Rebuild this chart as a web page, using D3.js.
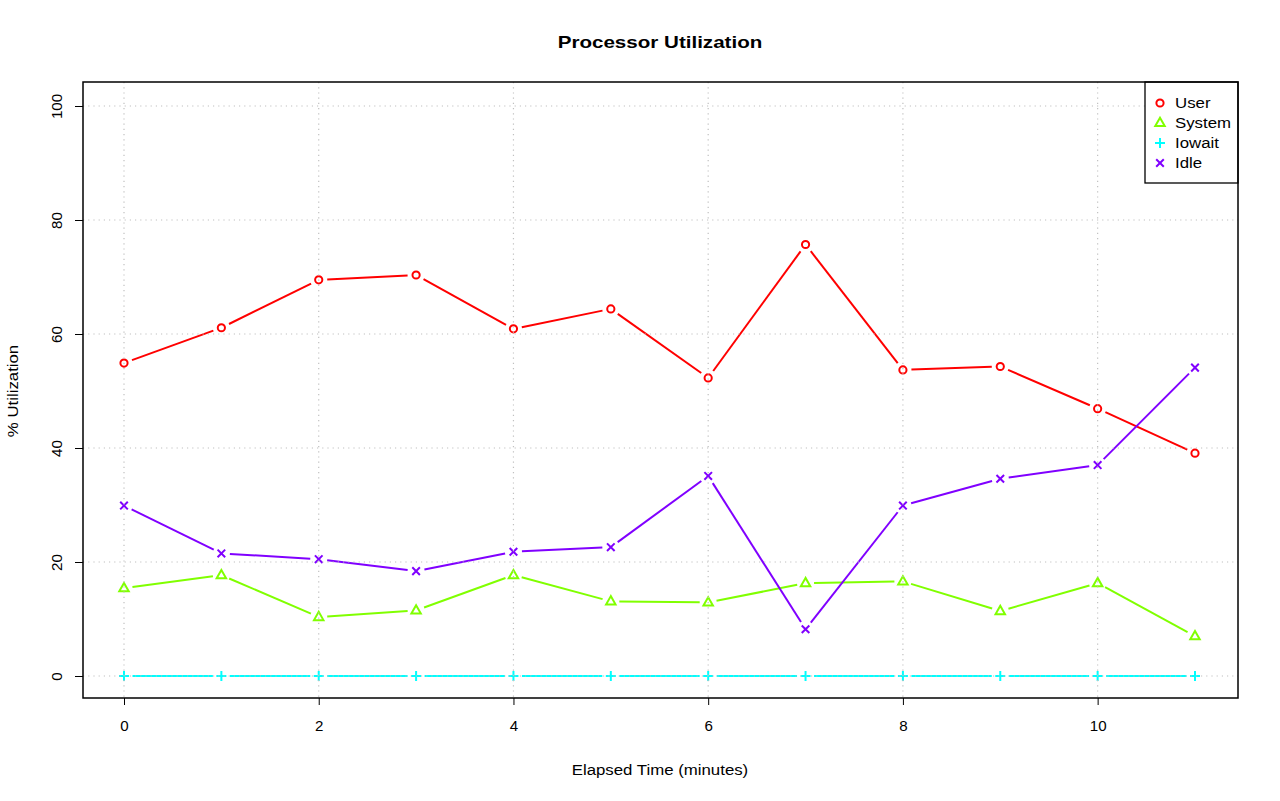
<!DOCTYPE html>
<html>
<head>
<meta charset="utf-8">
<script src="https://cdn.jsdelivr.net/npm/d3@7"></script>
<style>
body { margin: 0; background: #fff; }
svg { display: block; font-family: "Liberation Sans", Arial, sans-serif; }
</style>
</head>
<body>
<svg id="chart" width="1280" height="801"></svg>
<script>
const minutes = [0, 1, 2, 3, 4, 5, 6, 7, 8, 9, 10, 11];
const userVals = [54.9, 61.1, 69.5, 70.35, 60.9, 64.4, 52.3, 75.7, 53.7, 54.3, 46.9, 39.1];
const systemVals = [15.4, 17.7, 10.35, 11.5, 17.7, 13.1, 12.9, 16.3, 16.6, 11.4, 16.3, 7.0];
const iowaitVals = [0, 0, 0, 0, 0, 0, 0, 0, 0, 0, 0, 0];
const idleVals = [29.9, 21.5, 20.5, 18.4, 21.8, 22.6, 35.1, 8.2, 29.9, 34.6, 37.0, 54.1];
const seriesNames = ["User", "System", "Iowait", "Idle"];
const seriesColors = ["#FF0000", "#80FF00", "#00FFFF", "#8000FF"];
const seriesShapes = ["circle", "triangle", "plus", "cross"];
const xTicks = [0, 2, 4, 6, 8, 10];
const yTicks = [0, 20, 40, 60, 80, 100];

const series = [userVals, systemVals, iowaitVals, idleVals].map((v, i) => ({
  name: seriesNames[i], color: seriesColors[i], shape: seriesShapes[i],
  values: v.map((y, j) => ({ x: minutes[j], y }))
}));

const svg = d3.select("#chart");
const box = { left: 83, right: 1238, top: 82, bottom: 698 };
const x = d3.scaleLinear().domain([0, 11]).range([124, 1195]);
const y = d3.scaleLinear().domain([0, 100]).range([676, 106]);

// widen text to match the reference's wider glyph rendering
function widen(sel, f) {
  sel.each(function() {
    const n = this.getComputedTextLength();
    d3.select(this).attr("textLength", n * f).attr("lengthAdjust", "spacingAndGlyphs");
  });
}

// title and labels
svg.append("text").attr("x", 660).attr("y", 48).attr("text-anchor", "middle")
  .attr("font-weight", "bold").attr("font-size", 17).text("Processor Utilization").call(widen, 1.21);
svg.append("text").attr("x", 660).attr("y", 775).attr("text-anchor", "middle")
  .attr("font-size", 14).text("Elapsed Time (minutes)").call(widen, 1.2);
svg.append("text").attr("transform", "translate(18,391) rotate(-90)").attr("text-anchor", "middle")
  .attr("font-size", 14).text("% Utilization").call(widen, 1.2);

// axes
const xAxis = d3.axisBottom(x).tickValues(xTicks).tickSize(7).tickPadding(16).tickFormat(d3.format("d"));
const gx = svg.append("g").attr("transform", `translate(0,${box.bottom})`).call(xAxis);
gx.select(".domain").remove();
gx.selectAll("line").attr("stroke", "#000");
gx.selectAll("text").attr("font-size", 14).attr("font-family", "Liberation Sans, Arial, sans-serif").attr("fill", "#000")
  .call(widen, 1.08);

const yAxis = d3.axisLeft(y).tickValues(yTicks).tickSize(8).tickPadding(0).tickFormat(d3.format("d"));
const gy = svg.append("g").attr("transform", `translate(${box.left},0)`).call(yAxis);
gy.select(".domain").remove();
gy.selectAll("line").attr("stroke", "#000");
gy.selectAll("text").attr("font-size", 14).attr("font-family", "Liberation Sans, Arial, sans-serif").attr("fill", "#000")
  .attr("text-anchor", "middle")
  .each(function() {
    d3.select(this).attr("x", null).attr("y", null)
      .attr("transform", "translate(-26,0) rotate(-90)").attr("dy", "0.35em");
  })
  .call(widen, 1.08);

// lines with gaps (R type="b")
const gap = 8.5;
const plot = svg.append("g");
series.forEach(s => {
  const g = plot.append("g");
  for (let i = 0; i < s.values.length - 1; i++) {
    const x1 = x(s.values[i].x), y1 = y(s.values[i].y);
    const x2 = x(s.values[i + 1].x), y2 = y(s.values[i + 1].y);
    const dx = x2 - x1, dy = y2 - y1, len = Math.hypot(dx, dy);
    if (len <= 2 * gap) continue;
    const ux = dx / len, uy = dy / len;
    g.append("line")
      .attr("x1", x1 + ux * gap).attr("y1", y1 + uy * gap)
      .attr("x2", x2 - ux * gap).attr("y2", y2 - uy * gap)
      .attr("stroke", s.color).attr("stroke-width", 2);
  }
});

function drawMarker(g, shape, cx, cy, color) {
  const sw = 2;
  if (shape === "circle") {
    g.append("circle").attr("cx", cx).attr("cy", cy).attr("r", 3.6)
      .attr("fill", "none").attr("stroke", color).attr("stroke-width", sw);
  } else if (shape === "triangle") {
    const r = 5.2;
    const pts = [[cx, cy - r], [cx - r * 0.91, cy + r * 0.6], [cx + r * 0.91, cy + r * 0.6]];
    g.append("path").attr("d", d3.line()(pts) + "Z")
      .attr("fill", "none").attr("stroke", color).attr("stroke-width", sw);
  } else if (shape === "plus") {
    const r = 5;
    g.append("path").attr("d", `M${cx - r},${cy}H${cx + r}M${cx},${cy - r}V${cy + r}`)
      .attr("stroke", color).attr("stroke-width", sw);
  } else if (shape === "cross") {
    const r = 3.8;
    g.append("path").attr("d", `M${cx - r},${cy - r}L${cx + r},${cy + r}M${cx - r},${cy + r}L${cx + r},${cy - r}`)
      .attr("stroke", color).attr("stroke-width", sw);
  }
}

series.forEach(s => {
  const g = plot.append("g");
  s.values.forEach(d => drawMarker(g, s.shape, x(d.x), y(d.y), s.color));
});

// grid (drawn on top like R grid())
const grid = svg.append("g").attr("stroke", "#c0c0c0").attr("stroke-width", 1.2).attr("stroke-dasharray", "1.2,4");
xTicks.forEach(t => grid.append("line").attr("x1", x(t)).attr("x2", x(t)).attr("y1", box.top).attr("y2", box.bottom));
yTicks.forEach(t => grid.append("line").attr("x1", box.left).attr("x2", box.right).attr("y1", y(t)).attr("y2", y(t)));

// legend
const lg = svg.append("g");
lg.append("rect").attr("x", 1145).attr("y", box.top).attr("width", box.right - 1145).attr("height", 101)
  .attr("fill", "#fff").attr("stroke", "#000").attr("stroke-width", 1.3);
series.forEach((s, i) => {
  const cy = 103 + i * 20;
  drawMarker(lg, s.shape, 1160, cy, s.color);
  lg.append("text").attr("x", 1175).attr("y", cy).attr("dy", "0.35em").attr("font-size", 14).text(s.name)
    .call(widen, 1.2);
});

// plot box
svg.append("rect").attr("x", box.left).attr("y", box.top)
  .attr("width", box.right - box.left).attr("height", box.bottom - box.top)
  .attr("fill", "none").attr("stroke", "#000").attr("stroke-width", 1.5);
</script>
</body>
</html>
